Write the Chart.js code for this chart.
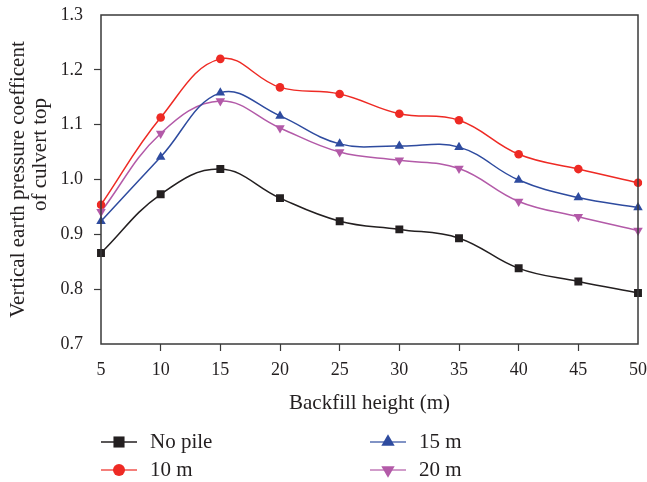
<!DOCTYPE html>
<html>
<head>
<meta charset="utf-8">
<script src="https://cdn.jsdelivr.net/npm/chart.js@4.4.1/dist/chart.umd.min.js"></script>
<style>
  body { margin: 0; background: #fff; }
  #wrap { width: 647px; height: 482px; }
</style>
</head>
<body>
<div id="wrap"><canvas id="chart" width="647" height="482"></canvas></div>
<script>
// backfill height (m) on x
const heights = [5, 10, 15, 20, 25, 30, 35, 40, 45, 50];

// vertical earth pressure coefficient at culvert top, per pile length
const noPile = [0.866, 0.973, 1.019, 0.966, 0.924, 0.909, 0.893, 0.838, 0.814, 0.793];
const pile10 = [0.954, 1.113, 1.220, 1.168, 1.156, 1.120, 1.108, 1.046, 1.019, 0.994];
const pile15 = [0.924, 1.041, 1.158, 1.116, 1.065, 1.061, 1.059, 0.999, 0.967, 0.949];
const pile20 = [0.941, 1.084, 1.143, 1.094, 1.050, 1.035, 1.020, 0.960, 0.932, 0.907];

const seriesNames = ["No pile", "10 m", "15 m", "20 m"];
const yTitleLines = ["Vertical earth pressure coefficent", "of culvert top"];
const yMin = 0.7, yMax = 1.3, yStep = 0.1;

const serif = '"Liberation Serif", "Times New Roman", serif';
const ink = "#231f20";
const axisColor = "#3a3a3a";

// where each legend entry sits (two columns under the plot)
const legendSpots = [
  { x: 101, y: 442 },
  { x: 101, y: 470 },
  { x: 370, y: 442 },
  { x: 370, y: 470 },
];

const frame = {
  id: "frame",
  afterDatasetsDraw(chart) {
    const { ctx, chartArea: a } = chart;
    ctx.save();
    ctx.strokeStyle = axisColor;
    ctx.lineWidth = 1.5;
    ctx.strokeRect(a.left, a.top, a.right - a.left, a.bottom - a.top);
    ctx.restore();
  },
};

// two-line rotated y title; the second line sits a bit higher than the first
const yTitle = {
  id: "yTitle",
  afterDraw(chart) {
    const { ctx, chartArea: a } = chart;
    const mid = (a.top + a.bottom) / 2;
    ctx.save();
    ctx.fillStyle = ink;
    ctx.font = "21px " + serif;
    ctx.textAlign = "center";
    ctx.textBaseline = "middle";
    [[18, mid], [40, mid - 25]].forEach((p, i) => {
      ctx.save();
      ctx.translate(p[0], p[1]);
      ctx.rotate(-Math.PI / 2);
      ctx.fillText(yTitleLines[i], 0, 0);
      ctx.restore();
    });
    ctx.restore();
  },
};

const bottomLegend = {
  id: "bottomLegend",
  afterDraw(chart) {
    const ctx = chart.ctx;
    chart.data.datasets.forEach((ds, i) => {
      const p = legendSpots[i];
      ctx.save();
      ctx.strokeStyle = ds.borderColor;
      ctx.globalAlpha = i === 0 ? 1 : 0.8;
      ctx.lineWidth = 1.5;
      ctx.beginPath();
      ctx.moveTo(p.x, p.y);
      ctx.lineTo(p.x + 36, p.y);
      ctx.stroke();
      ctx.globalAlpha = 1;
      ctx.fillStyle = ds.pointBackgroundColor;
      // legend markers are drawn a bit bigger than the ones on the curves
      Chart.helpers.drawPoint(ctx, {
        pointStyle: ds.pointStyle,
        radius: ds.pointRadius * 1.4,
        rotation: ds.pointRotation || 0,
        borderWidth: 0,
      }, p.x + 18, p.y);
      ctx.fillStyle = ink;
      ctx.font = "21px " + serif;
      ctx.textBaseline = "middle";
      ctx.textAlign = "left";
      ctx.fillText(ds.label, p.x + 49, p.y);
      ctx.restore();
    });
  },
};

function series(label, data, color, style, radius, rotation) {
  return {
    label: label,
    data: data,
    borderColor: color,
    backgroundColor: color,
    pointBackgroundColor: color,
    pointBorderColor: color,
    pointBorderWidth: 0,
    pointStyle: style,
    pointRadius: radius,
    pointHoverRadius: radius,
    pointRotation: rotation,
    borderWidth: 1.5,
    tension: 0.4,
    fill: false,
  };
}

// hide the tick marks that sit on the frame corners
const innerTick = (ctx) => {
  const n = ctx.chart.scales[ctx.scale.id].ticks.length;
  return ctx.index === 0 || ctx.index === n - 1 ? "rgba(0,0,0,0)" : axisColor;
};

new Chart(document.getElementById("chart").getContext("2d"), {
  type: "line",
  data: {
    labels: heights.map(String),
    datasets: [
      series(seriesNames[0], noPile, "#231f20", "rect", 5.6, 0),
      series(seriesNames[1], pile10, "#ee2a24", "circle", 4.3, 0),
      series(seriesNames[2], pile15, "#2e4b9f", "triangle", 5.5, 0),
      series(seriesNames[3], pile20, "#b35aa8", "triangle", 5.5, 180),
    ],
  },
  options: {
    responsive: false,
    animation: false,
    devicePixelRatio: 1,
    layout: { padding: { left: 0, right: 9, top: 15, bottom: 66 } },
    plugins: {
      legend: { display: false },
      tooltip: { enabled: false },
    },
    scales: {
      x: {
        offset: false,
        grid: {
          drawOnChartArea: false,
          drawTicks: true,
          tickLength: 7,
          tickWidth: 1.2,
          color: innerTick,
        },
        border: { display: false },
        ticks: {
          color: ink,
          padding: 8,
          maxRotation: 0,
          autoSkip: false,
          font: { family: serif, size: 18 },
        },
        title: {
          display: true,
          text: "Backfill height (m)",
          color: ink,
          padding: { top: 0, bottom: 0 },
          font: { family: serif, size: 21 },
        },
        afterFit(scale) {
          scale.height = 72;
          scale.paddingLeft = 0;
          scale.paddingRight = 0;
        },
      },
      y: {
        min: yMin,
        max: yMax,
        grid: {
          drawOnChartArea: false,
          drawTicks: true,
          tickLength: 7,
          tickWidth: 1.2,
          color: innerTick,
        },
        border: { display: false },
        ticks: {
          stepSize: yStep,
          color: ink,
          padding: 11,
          font: { family: serif, size: 18 },
          callback: (v) => v.toFixed(1),
        },
        title: { display: false },
        afterFit(scale) {
          scale.width = 101;
          scale.paddingTop = 0;
          scale.paddingBottom = 0;
        },
      },
    },
  },
  plugins: [frame, yTitle, bottomLegend],
});
</script>
</body>
</html>
